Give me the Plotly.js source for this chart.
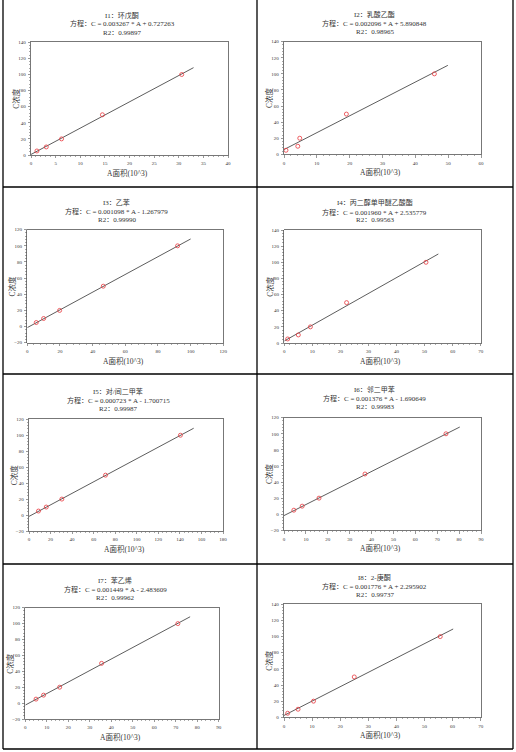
<!DOCTYPE html>
<html>
<head>
<meta charset="utf-8">
<script src="https://cdn.plot.ly/plotly-3.0.1.min.js"></script>
<style>html,body{margin:0;padding:0;background:#fff;}#chart{width:516px;height:752px;}</style>
</head>
<body>
<div id="chart"></div>
<script>
// ---- data ----
const compoundNames = ["I1：环戊酮", "I2：乳酸乙酯", "I3：乙苯", "I4：丙二醇单甲醚乙酸酯",
  "I5：对/间二甲苯", "I6：邻二甲苯", "I7：苯乙烯", "I8：2-庚酮"];
const equations = [
  "方程：C = 0.003267 * A + 0.727263",
  "方程：C = 0.002096 * A + 5.890848",
  "方程：C = 0.001098 * A - 1.267979",
  "方程：C = 0.001960 * A + 2.535779",
  "方程：C = 0.000723 * A - 1.700715",
  "方程：C = 0.001376 * A - 1.690649",
  "方程：C = 0.001449 * A - 2.483609",
  "方程：C = 0.001776 * A + 2.295902"];
const r2Values = ["0.99897", "0.98965", "0.99990", "0.99563", "0.99987", "0.99983", "0.99962", "0.99737"];
const concentration = [5, 10, 20, 50, 100];
const areaI1 = [1.2, 3.1, 6.2, 14.5, 30.6];
const areaI2 = [0.6, 4.2, 4.8, 19.0, 45.8];
const areaI3 = [5.5, 10.0, 19.8, 46.5, 92.0];
const areaI4 = [1.2, 5.0, 9.3, 22.2, 50.5];
const areaI5 = [8.8, 16.0, 30.5, 71.0, 140.5];
const areaI6 = [4.5, 8.3, 16.0, 37.0, 74.0];
const areaI7 = [5.0, 8.5, 16.0, 35.5, 71.0];
const areaI8 = [1.3, 5.0, 10.5, 25.0, 55.6];
const fitLineX = [[0, 33], [0, 49.9], [0, 100], [0, 54.9], [0, 152.8], [0, 80.3], [0, 76.7], [0, 60.2]];
const fitLineY = [[0.7, 108.5], [5.9, 110.6], [-1.3, 108.5], [2.5, 110.3], [-1.7, 108.8], [-1.7, 108.4], [-2.5, 108.6], [2.3, 109.4]];
const xRanges = [[0, 40], [0, 60], [0, 120], [0, 70], [0, 180], [0, 90], [0, 90], [0, 70]];
const xSteps = [5, 10, 20, 10, 20, 10, 10, 10];
const yRanges = [[0, 140], [0, 140], [-20, 120], [0, 140], [-20, 120], [-20, 120], [-20, 120], [0, 140]];
const xAxisLabel = "A面积(10^3)";
const yAxisLabel = "C浓度";

// ---- layout geometry (pixels) ----
const W = 516, H = 752;
const areas = [areaI1, areaI2, areaI3, areaI4, areaI5, areaI6, areaI7, areaI8];
const plotBox = [ // left, right, top, bottom
  [31, 228, 42.3, 155], [284, 481, 41.7, 154.3],
  [27.3, 223.3, 229.7, 342.7], [284.3, 480.7, 230, 343],
  [29, 223, 419.3, 531], [284, 481, 417.7, 530.3],
  [25.3, 218.7, 607.7, 719], [284, 480.7, 604.3, 717.3]];
const titleX = [122, 374.7, 116.7, 374.7, 118, 374.7, 115, 374.7];
const titleY = [[15, 24, 33], [14.3, 23.7, 32.3], [202.7, 211.3, 220], [202.7, 212, 220.3],
  [391.3, 400.7, 409.3], [389.3, 398.7, 407.3], [580.7, 589.7, 598.3], [577.3, 586.7, 595.3]];

const px = v => v / W, py = v => 1 - v / H;
const serif = '"Liberation Serif", "Noto Sans CJK SC", serif';
const traces = [], annotations = [], shapes = [];
const layout = {
  width: W, height: H, margin: {l: 0, r: 0, t: 0, b: 0},
  paper_bgcolor: '#fff', plot_bgcolor: '#fff', showlegend: false,
  font: {family: serif, color: '#333'}
};

for (let i = 0; i < 8; i++) {
  const n = i === 0 ? '' : String(i + 1);
  const [l, r, t, b] = plotBox[i];
  traces.push({
    x: fitLineX[i], y: fitLineY[i], mode: 'lines', type: 'scatter',
    line: {color: '#333', width: 0.8}, xaxis: 'x' + n, yaxis: 'y' + n, hoverinfo: 'skip'
  });
  traces.push({
    x: areas[i], y: concentration, mode: 'markers', type: 'scatter',
    marker: {symbol: 'circle-open', size: 4, color: '#e8383d', line: {width: 0.8, color: '#e8383d'}},
    xaxis: 'x' + n, yaxis: 'y' + n
  });
  const common = {
    showgrid: false, zeroline: false, showline: true, linecolor: '#555', linewidth: 0.8,
    mirror: true, ticks: 'outside', ticklen: 2.5, tickwidth: 0.6, tickcolor: '#555',
    tickfont: {size: 5, family: serif, color: '#333'}, fixedrange: true
  };
  layout['xaxis' + n] = Object.assign({}, common, {
    domain: [px(l), px(r)], range: xRanges[i], dtick: xSteps[i], tick0: 0,
    anchor: 'y' + n, ticklabelstandoff: 1,
    minor: {ticks: 'outside', ticklen: 1.3, dtick: xSteps[i] / 5, tickcolor: '#555', tickwidth: 0.5}
  });
  layout['yaxis' + n] = Object.assign({}, common, {
    domain: [py(b), py(t)], range: yRanges[i], dtick: 20, tick0: 0,
    anchor: 'x' + n, ticklabelstandoff: 1,
    minor: {ticks: 'outside', ticklen: 1.3, dtick: 4, tickcolor: '#555', tickwidth: 0.5}
  });
  const lines = [compoundNames[i], equations[i], 'R2：' + r2Values[i]];
  lines.forEach((txt, k) => annotations.push({
    text: txt, xref: 'paper', yref: 'paper', x: px(titleX[i]), y: py(titleY[i][k]),
    xanchor: 'center', yanchor: 'middle', showarrow: false,
    font: {size: 7, family: serif, color: '#333'}
  }));
  annotations.push({
    text: xAxisLabel, xref: 'paper', yref: 'paper', x: px((l + r) / 2 - 2), y: py(b + 18),
    xanchor: 'center', yanchor: 'middle', showarrow: false,
    font: {size: 7.5, family: serif, color: '#333'}
  });
  annotations.push({
    text: yAxisLabel, xref: 'paper', yref: 'paper', x: px(l - 15), y: py((t + b) / 2),
    xanchor: 'center', yanchor: 'middle', showarrow: false, textangle: -90,
    font: {size: 7.5, family: serif, color: '#333'}
  });
}

// panel borders
const vLines = [3, 257, 513];
const hLines = [187, 374, 564, 749];
vLines.forEach(x => shapes.push({type: 'line', xref: 'paper', yref: 'paper',
  x0: px(x), x1: px(x), y0: py(0), y1: py(749), line: {color: '#000', width: 1.3}}));
hLines.forEach(y => shapes.push({type: 'line', xref: 'paper', yref: 'paper',
  x0: px(3), x1: px(513), y0: py(y), y1: py(y), line: {color: '#000', width: 1.3}}));

layout.annotations = annotations;
layout.shapes = shapes;
Plotly.newPlot('chart', traces, layout, {displayModeBar: false, staticPlot: true});
</script>
</body>
</html>
